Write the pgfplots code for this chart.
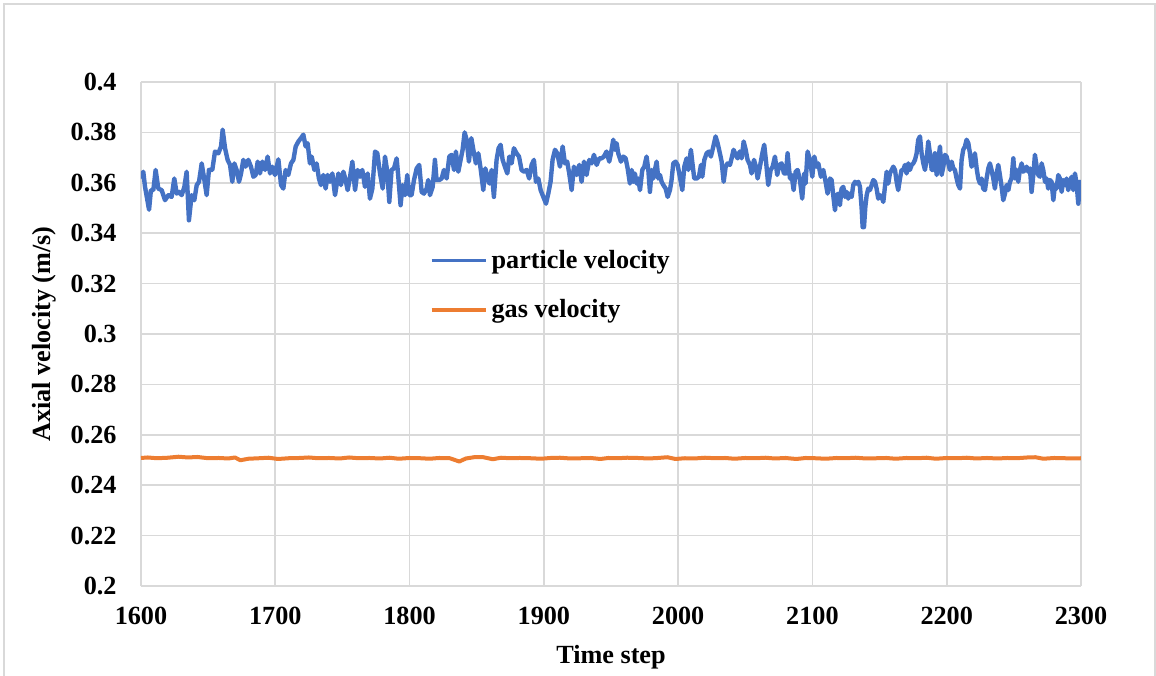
\documentclass[border=0pt]{standalone}
\usepackage{pgfplots}
\usepackage{pgfplotstable}
\pgfplotsset{compat=1.18}
\usepackage{fontspec}
\setmainfont{Liberation Serif}

\definecolor{pblue}{HTML}{4472C4}
\definecolor{gorange}{HTML}{ED7D31}
\definecolor{gridgray}{HTML}{D9D9D9}
\newcommand{\lblfont}{\bfseries\fontsize{13.1}{15.7}\selectfont}

% particle axial velocity (m/s) against time step
\pgfplotstableread{
step vel
1600.0 0.3617
1601.7 0.3644
1603.0 0.3584
1606.0 0.3493
1607.4 0.3571
1609.2 0.3571
1610.9 0.3651
1612.9 0.3577
1615.4 0.3571
1617.9 0.3531
1620.4 0.3551
1622.8 0.3544
1624.8 0.3617
1626.6 0.3557
1628.3 0.3564
1630.3 0.3551
1632.3 0.3584
1634.0 0.3644
1635.7 0.3451
1637.7 0.3551
1639.7 0.3531
1641.5 0.3591
1643.2 0.3604
1645.2 0.3677
1647.2 0.3611
1648.9 0.3551
1650.6 0.3651
1653.1 0.3651
1655.1 0.3724
1657.6 0.3717
1659.6 0.3744
1660.8 0.3811
1662.6 0.3737
1664.5 0.3691
1666.3 0.3671
1668.0 0.3604
1669.5 0.3677
1671.2 0.3651
1673.0 0.3604
1674.5 0.3637
1676.2 0.3691
1677.9 0.3664
1679.9 0.3691
1681.9 0.3664
1683.7 0.3624
1685.4 0.3631
1686.9 0.3684
1688.6 0.3637
1690.4 0.3684
1692.4 0.3651
1694.3 0.3704
1696.1 0.3637
1697.8 0.3664
1699.8 0.3631
1702.3 0.3693
1704.3 0.3591
1706.0 0.3577
1707.7 0.3651
1709.7 0.3631
1711.7 0.3677
1713.5 0.3691
1715.2 0.3744
1717.2 0.3764
1719.1 0.3777
1720.9 0.3791
1722.6 0.3744
1724.1 0.3757
1725.8 0.3677
1727.1 0.3704
1729.1 0.3651
1730.8 0.3677
1732.5 0.3617
1734.0 0.3591
1735.8 0.3631
1737.5 0.3577
1739.0 0.3631
1740.7 0.3604
1742.5 0.3637
1744.5 0.3551
1747.0 0.3637
1748.9 0.3591
1750.7 0.3644
1752.4 0.3611
1753.9 0.3571
1755.7 0.3624
1757.4 0.3684
1759.4 0.3571
1761.3 0.3651
1763.1 0.3624
1764.8 0.3651
1766.8 0.3584
1768.8 0.3637
1770.5 0.3537
1772.3 0.3577
1774.3 0.3724
1776.0 0.3717
1778.0 0.3637
1780.0 0.3577
1781.7 0.3704
1783.4 0.3644
1784.9 0.3524
1786.6 0.3651
1788.4 0.3657
1790.4 0.3697
1791.6 0.3624
1793.3 0.3511
1794.8 0.3591
1796.6 0.3551
1798.3 0.3631
1799.8 0.3551
1801.5 0.3551
1803.3 0.3611
1805.3 0.3657
1807.2 0.3671
1809.0 0.3564
1810.7 0.3557
1812.7 0.3577
1813.9 0.3611
1815.2 0.3551
1817.2 0.3584
1818.9 0.3691
1820.1 0.3611
1822.1 0.3611
1823.9 0.3617
1825.6 0.3651
1827.6 0.3617
1829.6 0.3704
1831.3 0.3711
1833.1 0.3651
1834.5 0.3724
1836.3 0.3644
1838.0 0.3691
1839.5 0.3731
1841.0 0.3800
1842.5 0.3771
1844.2 0.3684
1846.0 0.3777
1847.5 0.3731
1849.4 0.3677
1851.2 0.3717
1852.9 0.3657
1854.9 0.3571
1856.4 0.3657
1857.9 0.3624
1859.4 0.3597
1861.1 0.3651
1862.8 0.3544
1864.8 0.3691
1866.3 0.3737
1867.8 0.3751
1869.3 0.3691
1871.0 0.3664
1872.8 0.3637
1874.3 0.3704
1876.0 0.3677
1877.7 0.3737
1879.7 0.3717
1881.5 0.3704
1883.4 0.3651
1885.2 0.3644
1887.2 0.3651
1889.1 0.3617
1890.9 0.3671
1892.6 0.3691
1894.1 0.3604
1895.9 0.3617
1897.6 0.3571
1899.6 0.3544
1901.6 0.3517
1903.3 0.3557
1905.0 0.3604
1906.5 0.3691
1908.3 0.3731
1910.0 0.3717
1912.0 0.3664
1914.0 0.3744
1915.7 0.3677
1917.4 0.3684
1918.9 0.3637
1920.7 0.3571
1922.4 0.3664
1924.4 0.3631
1926.4 0.3671
1928.1 0.3604
1929.9 0.3684
1931.8 0.3631
1933.8 0.3691
1935.6 0.3677
1937.3 0.3711
1939.3 0.3671
1941.3 0.3697
1943.0 0.3697
1944.7 0.3704
1946.7 0.3724
1948.7 0.3684
1950.0 0.3717
1951.7 0.3771
1953.0 0.3731
1954.2 0.3757
1955.4 0.3717
1957.4 0.3684
1959.2 0.3704
1960.9 0.3697
1962.4 0.3657
1964.1 0.3597
1965.4 0.3651
1966.6 0.3604
1967.8 0.3637
1969.1 0.3597
1970.3 0.3617
1971.6 0.3571
1973.3 0.3651
1974.8 0.3664
1976.5 0.3704
1977.8 0.3651
1979.0 0.3564
1980.3 0.3651
1981.5 0.3617
1982.7 0.3651
1984.0 0.3684
1985.2 0.3617
1986.5 0.3631
1987.7 0.3604
1989.0 0.3591
1990.7 0.3577
1992.2 0.3544
1993.9 0.3571
1995.1 0.3611
1996.4 0.3677
1998.1 0.3684
1999.6 0.3671
2001.3 0.3624
2003.1 0.3571
2004.6 0.3664
2006.3 0.3697
2007.6 0.3651
2009.5 0.3731
2010.5 0.3684
2012.0 0.3617
2013.8 0.3617
2015.5 0.3624
2017.0 0.3671
2018.0 0.3624
2019.5 0.3691
2021.2 0.3717
2022.9 0.3724
2024.4 0.3704
2026.2 0.3744
2027.9 0.3784
2029.4 0.3757
2031.1 0.3717
2032.4 0.3684
2033.9 0.3604
2035.4 0.3664
2036.8 0.3677
2038.6 0.3671
2039.8 0.3697
2041.3 0.3731
2042.8 0.3711
2044.3 0.3697
2045.8 0.3724
2047.3 0.3697
2048.8 0.3764
2050.3 0.3731
2051.7 0.3691
2053.5 0.3671
2054.7 0.3637
2056.5 0.3691
2057.9 0.3664
2059.2 0.3617
2060.9 0.3664
2062.7 0.3717
2064.1 0.3751
2065.6 0.3677
2067.1 0.3591
2068.9 0.3651
2070.4 0.3664
2072.1 0.3704
2073.8 0.3631
2075.3 0.3671
2077.1 0.3677
2078.8 0.3637
2080.3 0.3637
2081.5 0.3717
2083.3 0.3617
2084.5 0.3631
2086.0 0.3571
2087.5 0.3644
2089.0 0.3651
2090.7 0.3611
2092.4 0.3537
2093.9 0.3637
2094.9 0.3597
2096.4 0.3724
2098.2 0.3691
2099.9 0.3624
2101.4 0.3704
2103.1 0.3664
2104.4 0.3677
2106.3 0.3624
2108.1 0.3651
2109.8 0.3604
2111.3 0.3557
2113.1 0.3617
2114.3 0.3611
2115.5 0.3551
2116.8 0.3491
2118.0 0.3551
2119.3 0.3557
2120.5 0.3511
2121.7 0.3577
2123.0 0.3584
2124.2 0.3544
2125.5 0.3564
2126.7 0.3537
2128.0 0.3557
2129.2 0.3544
2130.4 0.3591
2131.7 0.3604
2132.9 0.3597
2134.2 0.3604
2135.4 0.3584
2136.6 0.3504
2137.4 0.3424
2138.4 0.3424
2139.4 0.3504
2140.4 0.3551
2141.6 0.3577
2142.8 0.3571
2144.1 0.3591
2145.3 0.3611
2146.6 0.3604
2147.8 0.3577
2149.0 0.3537
2150.3 0.3551
2151.5 0.3544
2152.8 0.3524
2154.0 0.3584
2155.3 0.3644
2156.5 0.3597
2157.7 0.3637
2159.0 0.3651
2160.2 0.3664
2161.5 0.3651
2162.7 0.3604
2163.9 0.3571
2165.2 0.3617
2166.4 0.3651
2167.7 0.3651
2168.9 0.3671
2170.1 0.3637
2171.4 0.3677
2172.6 0.3651
2173.9 0.3671
2175.1 0.3677
2176.4 0.3691
2177.6 0.3717
2178.8 0.3771
2180.1 0.3784
2181.3 0.3717
2182.6 0.3677
2183.8 0.3651
2185.0 0.3691
2186.3 0.3764
2187.5 0.3717
2188.8 0.3651
2190.0 0.3651
2191.2 0.3717
2192.5 0.3631
2193.7 0.3691
2195.0 0.3744
2196.2 0.3631
2197.5 0.3664
2198.7 0.3711
2199.9 0.3704
2201.2 0.3677
2202.4 0.3651
2203.7 0.3684
2204.9 0.3657
2206.1 0.3651
2207.4 0.3617
2208.6 0.3591
2209.9 0.3577
2211.1 0.3691
2212.3 0.3731
2213.6 0.3744
2214.8 0.3771
2216.1 0.3757
2217.3 0.3717
2218.5 0.3664
2219.8 0.3677
2221.0 0.3717
2222.3 0.3657
2223.5 0.3617
2224.8 0.3597
2226.0 0.3617
2227.2 0.3577
2228.5 0.3571
2229.7 0.3617
2231.0 0.3657
2232.2 0.3677
2233.4 0.3651
2234.7 0.3617
2235.9 0.3577
2237.2 0.3637
2238.4 0.3671
2239.6 0.3631
2240.9 0.3584
2242.1 0.3531
2243.4 0.3557
2244.6 0.3591
2245.9 0.3571
2247.1 0.3604
2248.3 0.3617
2249.6 0.3697
2250.8 0.3617
2252.1 0.3651
2253.3 0.3604
2254.5 0.3651
2255.8 0.3677
2257.0 0.3644
2258.3 0.3651
2259.5 0.3664
2260.7 0.3644
2262.0 0.3657
2263.2 0.3564
2264.5 0.3631
2265.7 0.3711
2267.0 0.3664
2268.2 0.3631
2269.4 0.3624
2270.7 0.3677
2271.9 0.3651
2273.2 0.3604
2274.4 0.3617
2275.6 0.3577
2276.9 0.3611
2278.1 0.3604
2279.4 0.3531
2280.6 0.3591
2281.8 0.3577
2283.1 0.3631
2284.3 0.3617
2285.6 0.3564
2286.8 0.3611
2288.1 0.3591
2289.3 0.3617
2290.5 0.3571
2291.8 0.3597
2293.0 0.3624
2294.3 0.3571
2295.5 0.3637
2296.7 0.3597
2298.0 0.3517
2299.2 0.3584
2300.0 0.3611
}\particletable

% gas axial velocity (m/s) against time step
\pgfplotstableread{
step vel
1600 0.2508
1605 0.2510
1612 0.2507
1620 0.2509
1628 0.2513
1635 0.2510
1642 0.2512
1650 0.2507
1658 0.2508
1665 0.2506
1670 0.2510
1674 0.2499
1680 0.2505
1688 0.2507
1695 0.2509
1702 0.2504
1710 0.2507
1718 0.2508
1725 0.2510
1732 0.2507
1740 0.2508
1748 0.2506
1755 0.2510
1762 0.2507
1770 0.2508
1778 0.2506
1785 0.2509
1792 0.2505
1800 0.2508
1808 0.2507
1815 0.2505
1822 0.2508
1830 0.2507
1837 0.2494
1842 0.2506
1848 0.2511
1855 0.2511
1862 0.2503
1868 0.2509
1875 0.2507
1882 0.2508
1890 0.2507
1898 0.2505
1905 0.2508
1912 0.2509
1920 0.2506
1928 0.2507
1935 0.2508
1942 0.2504
1948 0.2508
1955 0.2507
1962 0.2509
1970 0.2508
1978 0.2506
1985 0.2508
1992 0.2511
1998 0.2504
2005 0.2507
2012 0.2506
2020 0.2509
2028 0.2507
2035 0.2508
2042 0.2505
2050 0.2508
2058 0.2507
2065 0.2509
2072 0.2506
2080 0.2508
2088 0.2504
2095 0.2508
2102 0.2507
2110 0.2505
2118 0.2508
2125 0.2507
2132 0.2509
2140 0.2506
2148 0.2507
2155 0.2508
2162 0.2505
2170 0.2508
2178 0.2507
2185 0.2509
2192 0.2505
2200 0.2508
2208 0.2507
2215 0.2509
2222 0.2506
2230 0.2508
2238 0.2506
2245 0.2508
2252 0.2507
2260 0.2510
2266 0.2511
2272 0.2505
2280 0.2508
2288 0.2507
2295 0.2506
2300 0.2507
}\gastable

\begin{document}
\begin{tikzpicture}
\path[use as bounding box] (-70.5pt,-44.5pt) rectangle (507.5pt,293pt);
\draw[gridgray, line width=0.8pt] (-68.5pt,-60pt) rectangle (507pt,291pt);
\begin{axis}[
  at={(0pt,0pt)}, anchor=south west,
  scale only axis, width=470pt, height=252pt,
  xmin=1600, xmax=2300, ymin=0.2, ymax=0.4,
  xtick={1600,1700,1800,1900,2000,2100,2200,2300},
  ytick={0.2,0.22,0.24,0.26,0.28,0.3,0.32,0.34,0.36,0.38,0.4},
  grid=major,
  grid style={gridgray, line width=0.8pt},
  axis line style={draw=none},
  major tick length=0pt,
  tick style={draw=none},
  /pgf/number format/assume math mode=true,
  /pgf/number format/1000 sep={},
  yticklabel style={/pgf/number format/fixed, /pgf/number format/precision=2,
    font=\lblfont, anchor=east, inner sep=0pt, xshift=-12pt},
  xticklabel style={font=\lblfont, anchor=north, inner sep=0pt, yshift=-10.5pt},
  xlabel={Time step},
  xlabel style={font=\lblfont, at={(axis description cs:0.5,-0.117)}, anchor=north, inner sep=0pt},
  ylabel={Axial velocity (m/s)},
  ylabel style={font=\lblfont, at={(axis description cs:-0.116,0.5)}, anchor=north, inner sep=0pt},
  legend cell align=left,
  legend style={at={(rel axis cs:0.307,0.667)}, anchor=north west, draw=none, fill=none,
    inner sep=0pt, font=\lblfont, row sep=14pt, nodes={inner sep=0pt}},
  legend image code/.code={
    \draw[#1, line width=1.6pt] (0pt,0pt) -- (27pt,0pt);
    \path[draw=none] (0pt,0pt) -- (30pt,0pt);},
]
\addplot[pblue, line width=2.2pt, line join=round] table[x=step, y=vel] {\particletable};
\addplot[gorange, line width=2pt, line join=round] table[x=step, y=vel] {\gastable};
\legend{particle velocity, gas velocity}
\end{axis}
\end{tikzpicture}
\end{document}
